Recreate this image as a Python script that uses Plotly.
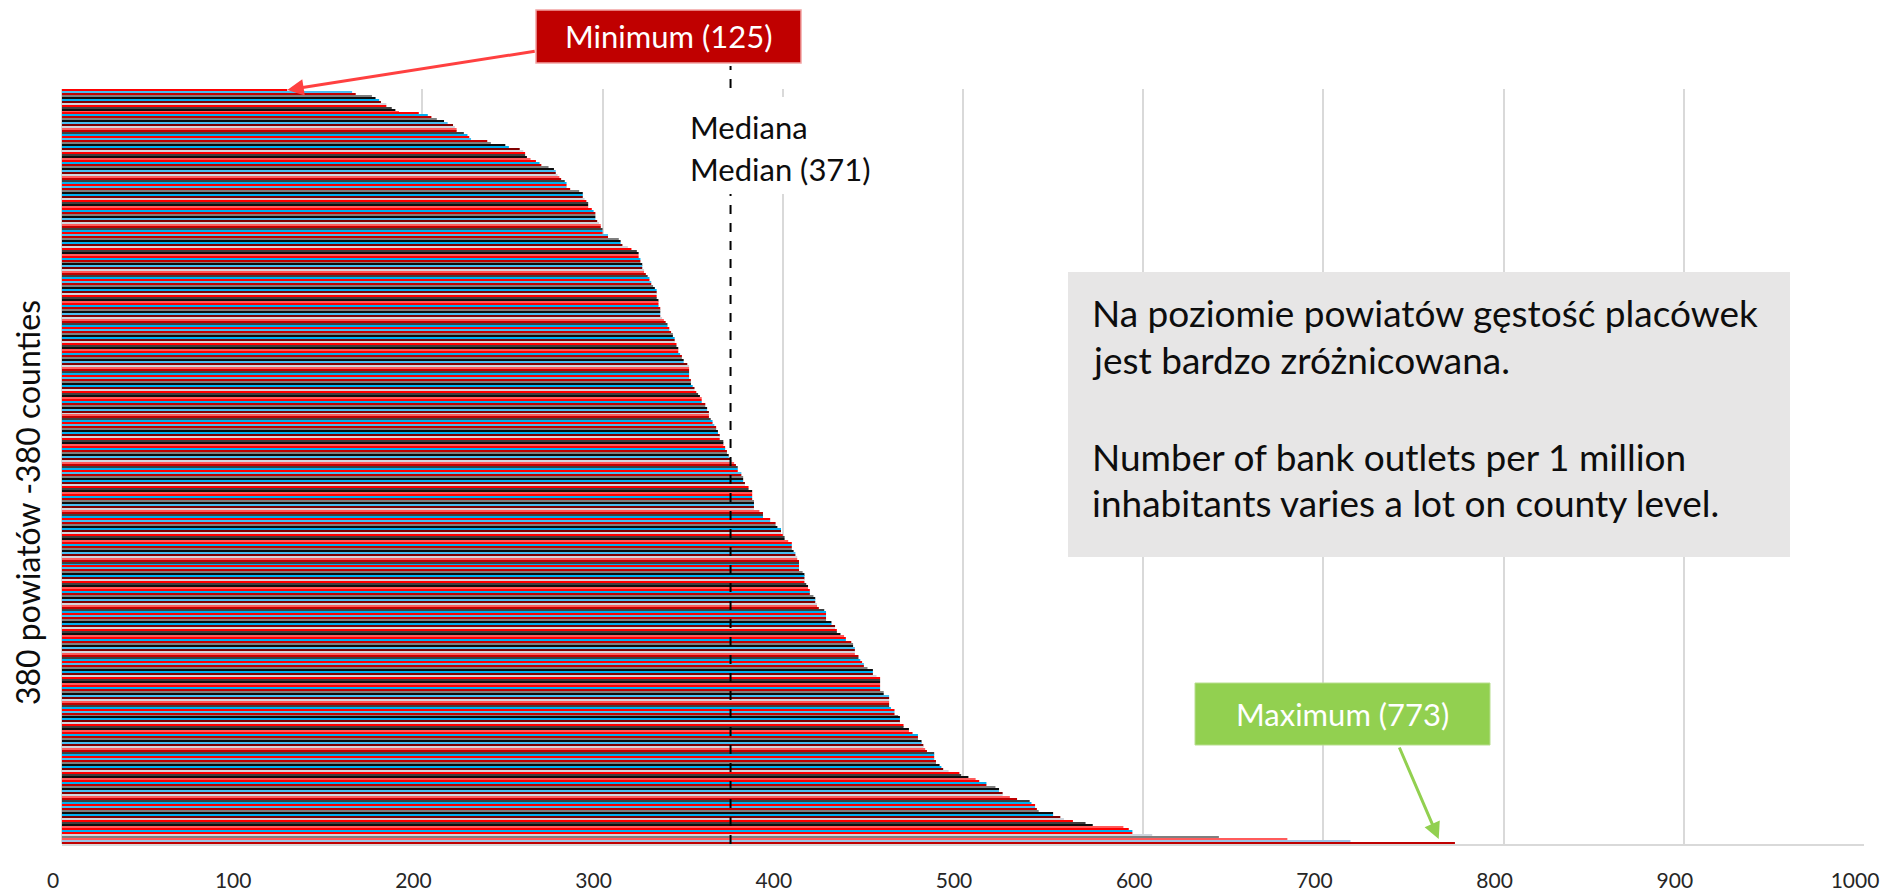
import plotly.graph_objects as go

# ---- data (bank outlets per 1 million inhabitants, 380 counties, sorted) ----
values = [
    125, 161, 163, 172, 174, 176, 177, 180, 180, 183,
    185, 187, 198, 203, 205, 208, 212, 214, 217, 218,
    219, 219, 223, 225, 226, 227, 236, 238, 246, 248,
    254, 256, 257, 257, 258, 260, 263, 265, 266, 270,
    273, 274, 274, 275, 276, 277, 279, 280, 280, 280,
    282, 287, 289, 289, 289, 290, 291, 292, 292, 292,
    294, 295, 296, 296, 296, 296, 297, 298, 299, 299,
    300, 300, 300, 303, 303, 309, 310, 310, 311, 314,
    316, 319, 320, 320, 320, 321,
    321, 321, 322, 322, 322, 323, 323, 324, 325, 326,
    326, 327, 327, 328, 329, 330, 330, 330, 330, 330,
    331, 331, 331, 331, 332, 332, 332, 332, 332, 333,
    334, 335, 336, 336, 337, 337, 338, 339, 339, 340,
    340, 340, 341, 341, 342, 342, 342, 343, 344, 344,
    345, 345, 347, 348, 348, 348, 348, 348, 348, 348,
    349, 349, 349, 350, 351, 351, 352, 353, 354, 355,
    355, 355, 357, 357, 358, 358, 359, 359, 359, 359,
    360, 361, 361, 362, 363, 363, 364, 364, 365, 365,
    365, 367, 367, 367, 368, 368, 369, 369, 370, 370,
    371, 372, 373, 374, 375,
    375, 375, 377, 377, 378, 378, 378, 379, 379, 381,
    381, 383, 383, 383, 383, 383, 384, 384, 384, 384,
    384, 387, 389, 389, 389, 393, 393, 396, 396, 397,
    399, 399, 399, 400, 401, 401, 403, 405, 405, 405,
    405, 406, 407, 407, 408, 408, 409, 409, 409, 409,
    409, 409, 411, 412, 412, 412, 412, 412, 413, 414,
    414, 415, 415, 415, 417, 418, 418, 418, 419, 419,
    420, 423, 424, 424, 424, 424, 424, 427, 427, 429,
    429, 430, 430, 432, 434, 435, 435, 438, 439, 439,
    440, 440, 440, 440, 442, 442, 443, 444, 445, 445,
    447, 450, 450, 450, 452, 454, 454, 454, 454, 454,
    456, 459, 459,
    454, 454, 456, 459, 459, 459, 459, 460, 462, 462,
    462, 464, 465, 465, 465, 465, 467, 467, 470, 470,
    472, 475, 475, 475, 477, 477, 478, 478, 479, 480,
    484, 484, 484, 484, 485, 485, 487, 488, 489, 492,
    498, 499, 503, 507, 509, 513, 513, 518, 520, 520,
    522, 522, 526, 530, 537, 538, 540, 540, 541, 542,
    550, 550, 554, 556, 561, 568, 572, 589, 592, 594,
    594, 605, 642, 680, 715, 773,
]
values = sorted(values)
counties = list(range(len(values)))
x_ticks = [0, 100, 200, 300, 400, 500, 600, 700, 800, 900, 1000]
min_value = 125
max_value = 773
median_value = 371

# ---- styles ----
RED, BLUE, DRED, GRAY = "#FF0000", "#00B0F0", "#C00000", "#7F7F7F"
BLACK, MAROON, LGRAY, DGRAY = "#0D0D0D", "#800000", "#D0D6DE", "#404040"
LRED, LBLUE, PBLUE = "#FF5B5B", "#47BEF0", "#9DC3E6"
cycle = [RED, LBLUE, DRED, GRAY, BLACK, BLUE, MAROON, LGRAY, RED, DGRAY, BLACK, LRED,
         RED, BLUE, DRED, GRAY, BLACK, LBLUE, MAROON, LGRAY, LRED, DRED, DGRAY, BLUE]
tail_colors = [RED, LGRAY, GRAY, LRED, PBLUE, DRED]
colors = [cycle[i % len(cycle)] for i in range(len(values))]
colors[-len(tail_colors):] = tail_colors

W, H = 1897, 896
L, R, T, B = 62, 1864, 89, 844
FONT = "Lato"


def px(X):
    return (X - L) / (R - L)


def py(Y):
    return (B - Y) / (B - T)


fig = go.Figure()
fig.add_trace(go.Bar(
    x=values, y=counties, orientation="h",
    marker=dict(color=colors, line=dict(width=0)),
    hoverinfo="x",
))

shapes = [
    dict(type="line", xref="x", yref="paper", x0=median_value, x1=median_value,
         y0=0, y1=py(66), line=dict(color="black", width=2, dash="dash"), layer="above"),
    dict(type="rect", xref="paper", yref="paper", x0=px(686), x1=px(884),
         y0=py(194), y1=py(97), fillcolor="white", line=dict(width=0), layer="above"),
    dict(type="rect", xref="paper", yref="paper", x0=px(1068), x1=px(1790),
         y0=py(557), y1=py(272), fillcolor="#E7E6E6", line=dict(width=0), layer="above"),
    dict(type="rect", xref="paper", yref="paper", x0=px(536), x1=px(801),
         y0=py(63), y1=py(10), fillcolor="#C00000",
         line=dict(color="#F2A3A3", width=1.5), layer="above"),
    dict(type="rect", xref="paper", yref="paper", x0=px(1195), x1=px(1490),
         y0=py(745), y1=py(683), fillcolor="#92D050",
         line=dict(color="#B8DE8E", width=1), layer="above"),
]

ann = []


def text(X, Y, s, size, color="#0D0D0D", xanchor="left"):
    ann.append(dict(xref="paper", yref="paper", x=px(X), y=py(Y), text=s,
                    showarrow=False, xanchor=xanchor, yanchor="middle",
                    font=dict(family=FONT, size=size, color=color)))


text(668, 36, f"Minimum ({min_value})", 31, "white", "center")
text(1342, 714, f"Maximum ({max_value})", 31, "white", "center")
text(688, 127, "Mediana", 31)
text(688, 169, f"Median ({median_value})", 31)
text(1090, 312, "Na poziomie powiatów gęstość placówek", 37)
text(1090, 359, "jest bardzo zróżnicowana.", 37)
text(1090, 456, "Number of bank outlets per 1 million", 37)
text(1090, 502, "inhabitants varies a lot on county level.", 37)

ann.append(dict(xref="paper", yref="paper", x=px(27), y=py(503),
                text="380 powiatów -380 counties", textangle=-90, showarrow=False,
                xanchor="center", yanchor="middle",
                font=dict(family=FONT, size=32, color="#0D0D0D")))

ann.append(dict(xref="x", yref="y", x=values[0], y=counties[0], text="",
                showarrow=True, arrowhead=2, arrowsize=1.1, arrowwidth=3,
                arrowcolor="#FF4040", ax=249, ay=-39))
ann.append(dict(xref="x", yref="y", x=values[-1] - 9, y=counties[-3], text="",
                showarrow=True, arrowhead=2, arrowsize=1.1, arrowwidth=3,
                arrowcolor="#92D050", ax=-40, ay=-93))

fig.update_layout(
    width=W, height=H,
    margin=dict(l=L, r=W - R, t=T, b=H - B, pad=0, autoexpand=False),
    paper_bgcolor="white", plot_bgcolor="white",
    showlegend=False, bargap=0.15,
    font=dict(family=FONT, color="#0D0D0D"),
    shapes=shapes, annotations=ann,
)
fig.update_xaxes(
    range=[0, 1000], tickvals=x_ticks, ticktext=[str(v) for v in x_ticks],
    showgrid=True, gridcolor="#D9D9D9", gridwidth=2,
    zeroline=True, zerolinecolor="#D9D9D9", zerolinewidth=2,
    showline=True, linecolor="#D9D9D9", linewidth=2,
    ticks="", ticklabelstandoff=17, ticklabelshift=-9, automargin=False,
    tickfont=dict(family=FONT, size=21, color="#262626"),
)
fig.update_yaxes(
    range=[len(values) - 0.5, -0.5], showticklabels=False, showgrid=False,
    zeroline=False, showline=False, ticks="", automargin=False,
)

fig.write_html("out.html", config={"displayModeBar": False},
               post_script="document.body.style.margin='0';document.body.style.overflow='hidden';")
